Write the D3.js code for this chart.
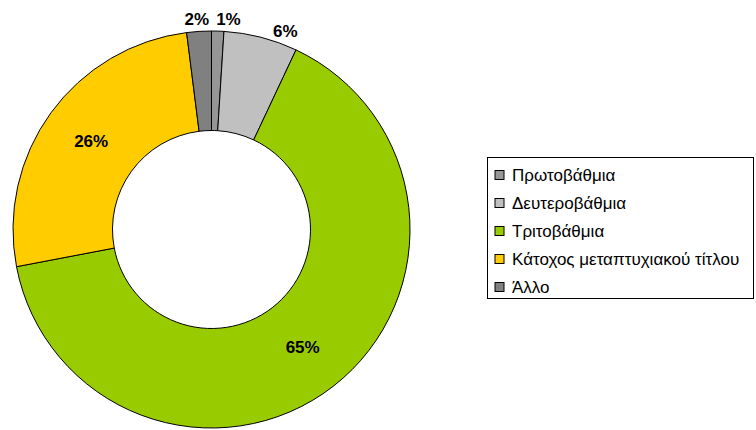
<!DOCTYPE html>
<html>
<head>
<meta charset="utf-8">
<script src="https://cdn.jsdelivr.net/npm/d3@7"></script>
<style>
  body { margin: 0; background: #fff; }
  svg { display: block; font-family: "Liberation Sans", Arial, sans-serif; }
</style>
</head>
<body>
<div id="chart"></div>
<script>
const categories = ['Πρωτοβάθμια', 'Δευτεροβάθμια', 'Τριτοβάθμια', 'Κάτοχος μεταπτυχιακού τίτλου', 'Άλλο'];
const values = [1, 6, 65, 26, 2];
const labels = ['1%', '6%', '65%', '26%', '2%'];
const colors = ['#969696', '#c0c0c0', '#99cc00', '#ffcc00', '#808080'];
const outside = [true, true, false, false, true];

const width = 756, height = 430;
const cx = 211.5, cy = 229.5;
const outerR = 198.5, innerR = 99;

const svg = d3.select('#chart').append('svg')
  .attr('width', width)
  .attr('height', height);

const pie = d3.pie().sort(null).value(d => d);
const arcs = pie(values);

const arc = d3.arc().innerRadius(innerR).outerRadius(outerR);
const labelArc = d3.arc().innerRadius(212).outerRadius(212);

const g = svg.append('g').attr('transform', `translate(${cx},${cy})`);

g.selectAll('path')
  .data(arcs)
  .enter().append('path')
  .attr('d', arc)
  .attr('fill', (d, i) => colors[i])
  .attr('stroke', '#000')
  .attr('stroke-width', 1);

// labels: inside ones at the centroid, small ones pushed outside
const nudgeX = [-2, 21, 0, 0, 11];
const nudgeY = [7, 13, 6, 5, 7];

g.selectAll('text.lbl')
  .data(arcs)
  .enter().append('text')
  .attr('class', 'lbl')
  .attr('transform', (d, i) => {
    const c = outside[i] ? labelArc.centroid(d) : arc.centroid(d);
    return `translate(${c[0]},${c[1]})`;
  })
  .attr('dx', (d, i) => nudgeX[i])
  .attr('dy', (d, i) => nudgeY[i])
  .attr('text-anchor', (d, i) => i === 0 ? 'start' : i === 4 ? 'end' : 'middle')
  .style('font-size', '17px')
  .style('font-weight', 'bold')
  .text((d, i) => labels[i]);

// legend
const legend = svg.append('g').attr('transform', 'translate(487.5,157.5)');

legend.append('rect')
  .attr('width', 266)
  .attr('height', 141)
  .attr('fill', '#fff')
  .attr('stroke', '#000');

categories.forEach((c, i) => {
  const row = legend.append('g').attr('transform', `translate(0,${17.5 + i * 28})`);
  row.append('rect')
    .attr('x', 7.5)
    .attr('y', -4.5)
    .attr('width', 9)
    .attr('height', 9)
    .attr('fill', colors[i])
    .attr('stroke', '#000');
  row.append('text')
    .attr('x', 24.5)
    .attr('y', 6)
    .style('font-size', '17px')
    .text(c);
});
</script>
</body>
</html>
